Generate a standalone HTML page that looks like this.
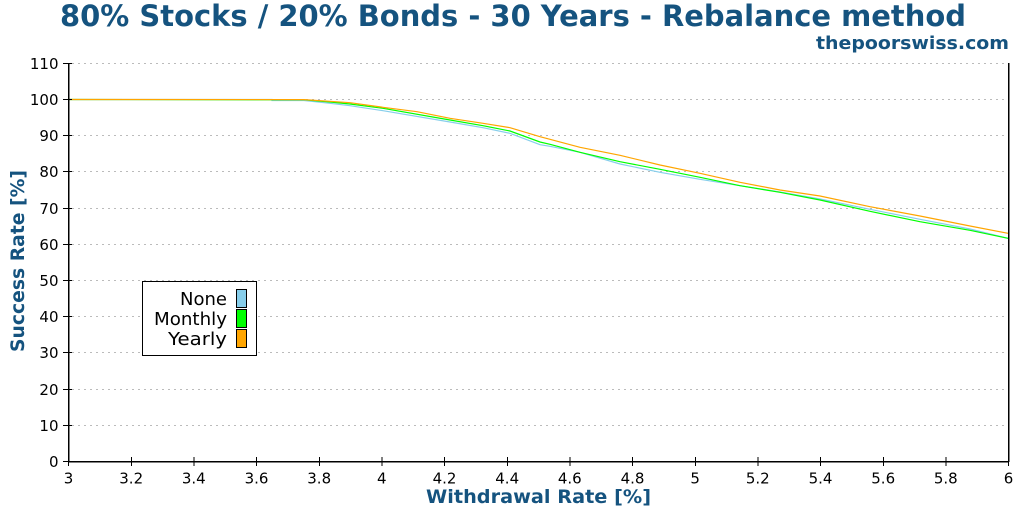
<!DOCTYPE html>
<html><head><meta charset="utf-8"><style>
html,body{margin:0;padding:0;background:#fff;}
svg{display:block;font-family:"DejaVu Sans","Liberation Sans",sans-serif;}
</style></head><body>
<svg width="1024" height="512" viewBox="0 0 1024 512" xmlns="http://www.w3.org/2000/svg">
<rect width="1024" height="512" fill="#fff"/>
<text x="513" y="26" font-size="29" font-weight="bold" fill="#15537f" text-anchor="middle" textLength="906" lengthAdjust="spacingAndGlyphs">80% Stocks / 20% Bonds - 30 Years - Rebalance method</text>
<text x="1009" y="49" font-size="18" font-weight="bold" fill="#15537f" text-anchor="end" textLength="193" lengthAdjust="spacingAndGlyphs">thepoorswiss.com</text>
<g stroke="#bbbbbb" stroke-width="1" stroke-dasharray="2,4" shape-rendering="crispEdges">
<line x1="72" y1="63.5" x2="1008" y2="63.5"/>
<line x1="72" y1="99.5" x2="1008" y2="99.5"/>
<line x1="72" y1="135.5" x2="1008" y2="135.5"/>
<line x1="72" y1="171.5" x2="1008" y2="171.5"/>
<line x1="72" y1="208.5" x2="1008" y2="208.5"/>
<line x1="72" y1="244.5" x2="1008" y2="244.5"/>
<line x1="72" y1="280.5" x2="1008" y2="280.5"/>
<line x1="72" y1="316.5" x2="1008" y2="316.5"/>
<line x1="72" y1="352.5" x2="1008" y2="352.5"/>
<line x1="72" y1="389.5" x2="1008" y2="389.5"/>
<line x1="72" y1="425.5" x2="1008" y2="425.5"/>
</g>
<g fill="none" stroke-width="1.2">
<polyline stroke="#87ceeb" points="68.5,99.5 272,99.5 272,100.5 304,100.5 330,103.3 350,105.7 383,110.7 450,122 483,127.7 510,133.3 540,144.7 550,146.3 580,152.3 620,164 660,172.3 700,179.3 740,185.7 780,192 820,199 870,209.3 920,219.3 970,229 1008,238.3"/>
<polyline stroke="#00ff00" points="68.5,99.5 304,99.8 330,102 350,104 383,108.3 450,120 483,125.7 510,131 540,142 550,144.3 580,152.3 620,161.7 660,169.3 700,177.3 740,185.7 780,192.3 820,200 870,211.3 920,221.7 970,230.3 1008,238.3"/>
<polyline stroke="#ffa500" points="68.5,99.5 304,99.6 330,101.3 350,102.7 383,107.3 417,111.7 450,118.3 483,123.3 510,127.7 540,136.7 550,139.3 580,147.3 620,155.3 660,165 700,173.3 740,182.3 780,190 820,196 870,206.7 920,216 970,226 1008,233.3"/>
</g>
<g stroke="#000" stroke-width="1.5" shape-rendering="crispEdges">
<line x1="68.5" y1="63" x2="68.5" y2="462"/>
<line x1="1008.5" y1="63" x2="1008.5" y2="462"/>
<line x1="68" y1="461.5" x2="1009" y2="461.5"/>
</g>
<g stroke="#000" stroke-width="1.2" shape-rendering="crispEdges">
<line x1="63" y1="63.5" x2="72" y2="63.5"/>
<line x1="63" y1="99.5" x2="72" y2="99.5"/>
<line x1="63" y1="135.5" x2="72" y2="135.5"/>
<line x1="63" y1="171.5" x2="72" y2="171.5"/>
<line x1="63" y1="208.5" x2="72" y2="208.5"/>
<line x1="63" y1="244.5" x2="72" y2="244.5"/>
<line x1="63" y1="280.5" x2="72" y2="280.5"/>
<line x1="63" y1="316.5" x2="72" y2="316.5"/>
<line x1="63" y1="352.5" x2="72" y2="352.5"/>
<line x1="63" y1="389.5" x2="72" y2="389.5"/>
<line x1="63" y1="425.5" x2="72" y2="425.5"/>
<line x1="63" y1="461.5" x2="72" y2="461.5"/>
<line x1="131.5" y1="457" x2="131.5" y2="466"/>
<line x1="194" y1="457" x2="194" y2="466"/>
<line x1="256.5" y1="457" x2="256.5" y2="466"/>
<line x1="319.5" y1="457" x2="319.5" y2="466"/>
<line x1="382" y1="457" x2="382" y2="466"/>
<line x1="444.5" y1="457" x2="444.5" y2="466"/>
<line x1="507.5" y1="457" x2="507.5" y2="466"/>
<line x1="570" y1="457" x2="570" y2="466"/>
<line x1="632.5" y1="457" x2="632.5" y2="466"/>
<line x1="695.5" y1="457" x2="695.5" y2="466"/>
<line x1="758" y1="457" x2="758" y2="466"/>
<line x1="820.5" y1="457" x2="820.5" y2="466"/>
<line x1="883.5" y1="457" x2="883.5" y2="466"/>
<line x1="946" y1="457" x2="946" y2="466"/>
<line x1="68.5" y1="457" x2="68.5" y2="466"/>
<line x1="1008.5" y1="457" x2="1008.5" y2="466"/>
</g>
<g font-size="15" fill="#000" text-anchor="end">
<text x="58.5" y="69">110</text>
<text x="58.5" y="105">100</text>
<text x="58.5" y="141">90</text>
<text x="58.5" y="177">80</text>
<text x="58.5" y="214">70</text>
<text x="58.5" y="250">60</text>
<text x="58.5" y="286">50</text>
<text x="58.5" y="322">40</text>
<text x="58.5" y="358">30</text>
<text x="58.5" y="395">20</text>
<text x="58.5" y="431">10</text>
<text x="58.5" y="467">0</text>
</g>
<g font-size="15" fill="#000" text-anchor="middle">
<text x="68.5" y="483.5">3</text>
<text x="131.2" y="483.5">3.2</text>
<text x="193.8" y="483.5">3.4</text>
<text x="256.5" y="483.5">3.6</text>
<text x="319.2" y="483.5">3.8</text>
<text x="381.8" y="483.5">4</text>
<text x="444.5" y="483.5">4.2</text>
<text x="507.2" y="483.5">4.4</text>
<text x="569.8" y="483.5">4.6</text>
<text x="632.5" y="483.5">4.8</text>
<text x="695.2" y="483.5">5</text>
<text x="757.8" y="483.5">5.2</text>
<text x="820.5" y="483.5">5.4</text>
<text x="883.2" y="483.5">5.6</text>
<text x="945.8" y="483.5">5.8</text>
<text x="1008.5" y="483.5">6</text>
</g>
<text x="538.5" y="503" font-size="19" font-weight="bold" fill="#15537f" text-anchor="middle" textLength="225" lengthAdjust="spacingAndGlyphs">Withdrawal Rate [%]</text>
<text transform="translate(24,261) rotate(-90)" font-size="19" font-weight="bold" fill="#15537f" text-anchor="middle" textLength="182" lengthAdjust="spacingAndGlyphs">Success Rate [%]</text>
<rect x="142.5" y="281.5" width="114" height="74" fill="#fff" stroke="#000" stroke-width="1"/>
<g font-size="18" fill="#000" text-anchor="end">
<text x="227" y="305" textLength="47" lengthAdjust="spacingAndGlyphs">None</text>
<text x="227" y="325" textLength="73" lengthAdjust="spacingAndGlyphs">Monthly</text>
<text x="227" y="345" textLength="59" lengthAdjust="spacingAndGlyphs">Yearly</text>
</g>
<rect x="236.5" y="289.5" width="10" height="18" fill="#87ceeb" stroke="#000"/>
<rect x="236.5" y="309.5" width="10" height="18" fill="#00ff00" stroke="#000"/>
<rect x="236.5" y="329.5" width="10" height="18" fill="#ffa500" stroke="#000"/>
</svg>
</body></html>
